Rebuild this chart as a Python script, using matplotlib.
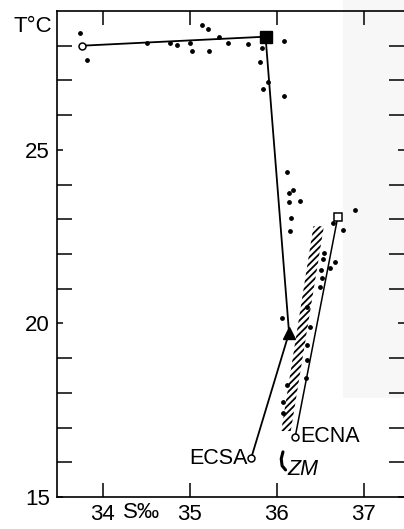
import matplotlib.pyplot as plt
from matplotlib.patches import Polygon, Rectangle

plt.rcParams['font.family'] = ['Liberation Sans', 'DejaVu Sans']
plt.rcParams['hatch.linewidth'] = 1.3

# main track: open circle -> filled square -> filled triangle -> ECSA
track_s = [33.76, 35.87, 36.14, 35.705]
track_t = [28.0, 28.26, 19.73, 16.12]

# ECNA -> open square
ecna_s = [36.21, 36.70]
ecna_t = [16.73, 23.07]

# hatched band (ZM)
band_s = [36.05, 36.16, 36.54, 36.42]
band_t = [16.9, 16.9, 22.8, 22.8]

# small curl near ZM
zm_s = [36.07, 36.05, 36.06, 36.10]
zm_t = [16.30, 16.10, 15.90, 15.78]

# scattered observations
dots_s = [33.74, 33.82, 34.51, 34.77, 34.85, 35.00, 35.03, 35.14, 35.21, 35.22,
          35.33, 35.44, 35.67, 35.83, 35.81, 36.08, 35.90, 35.84, 36.08, 36.12,
          36.18, 36.14, 36.14, 36.26, 36.16, 36.15, 36.90, 36.64, 36.76, 36.54,
          36.53, 36.67, 36.61, 36.51, 36.52, 36.49, 36.06, 36.35, 36.38, 36.35,
          36.35, 36.12, 36.33, 36.07, 36.07]
dots_t = [28.37, 27.59, 28.08, 28.08, 28.03, 28.08, 27.85, 28.60, 28.49, 27.85,
          28.26, 28.08, 28.05, 27.94, 27.54, 28.14, 26.96, 26.76, 26.56, 24.37,
          23.85, 23.76, 23.50, 23.53, 23.04, 22.67, 23.27, 22.90, 22.69, 22.03,
          21.86, 21.77, 21.60, 21.54, 21.31, 21.05, 20.16, 20.48, 19.90, 19.38,
          18.95, 18.23, 18.43, 17.74, 17.42]

fig = plt.figure(figsize=(4.04, 5.29), dpi=100)
# faint grey scan patch on the right
fig.add_artist(Rectangle((343 / 404, 131 / 529), 61 / 404, 398 / 529,
                         transform=fig.transFigure, facecolor='#f7f7f7',
                         edgecolor='none', zorder=-1))
ax = fig.add_axes([57 / 404, 32 / 529, 347 / 404, 486 / 529])
ax.patch.set_alpha(0)

ax.add_patch(Polygon(list(zip(band_s, band_t)), closed=True, fill=False,
                     hatch='/////', edgecolor='black', linewidth=0))
ax.plot(zm_s, zm_t, color='black', lw=2.2, solid_capstyle='round')

ax.plot(track_s, track_t, color='black', lw=1.3)
ax.plot(ecna_s, ecna_t, color='black', lw=1.1)
ax.scatter(dots_s, dots_t, s=6, color='black', zorder=3)

ax.plot(track_s[0], track_t[0], 'o', ms=5, mfc='white', mec='black', mew=1.1, zorder=4)
ax.plot(track_s[1], track_t[1], 's', ms=8, color='black', zorder=4)
ax.plot(track_s[2], track_t[2], '^', ms=8, color='black', zorder=4)
ax.plot(track_s[3], track_t[3], 'o', ms=5, mfc='white', mec='black', mew=1.1, zorder=4)
ax.plot(ecna_s[0], ecna_t[0], 'o', ms=5, mfc='white', mec='black', mew=1.1, zorder=4)
ax.plot(ecna_s[1], ecna_t[1], 's', ms=6, mfc='white', mec='black', mew=1.1, zorder=4)

ax.text(35.66, 16.12, 'ECSA', fontsize=15.5, ha='right', va='center')
ax.text(36.27, 16.73, 'ECNA', fontsize=15.5, ha='left', va='center')
ax.text(36.12, 15.8, 'ZM', fontsize=15.5, ha='left', va='center', style='italic')

ax.set_xlim(33.475, 37.46)
ax.set_ylim(15, 29)
ax.set_xticks([34, 35, 36, 37])
ax.set_yticks([15, 20, 25])
ax.set_yticks(range(16, 29), minor=True)
ax.tick_params(axis='both', direction='in', labelsize=16, width=1.1, pad=5,
               top=True, right=True)
ax.tick_params(axis='x', length=10)
ax.tick_params(axis='y', which='major', length=4)
ax.tick_params(axis='y', which='minor', direction='in', length=11, width=1.1,
               right=True)
for sp in ax.spines.values():
    sp.set_linewidth(1.2)
ax.spines['right'].set_visible(False)

ax.annotate('S‰', xy=(34.45, 0), xycoords=('data', 'axes fraction'),
            xytext=(0, -5), textcoords='offset pixels', fontsize=16,
            ha='center', va='top')
ax.annotate('T°C', xy=(0, 28.54), xycoords=('axes fraction', 'data'),
            xytext=(-5, 0), textcoords='offset pixels', fontsize=16,
            ha='right', va='center')

fig.savefig('out.png', dpi=100)
